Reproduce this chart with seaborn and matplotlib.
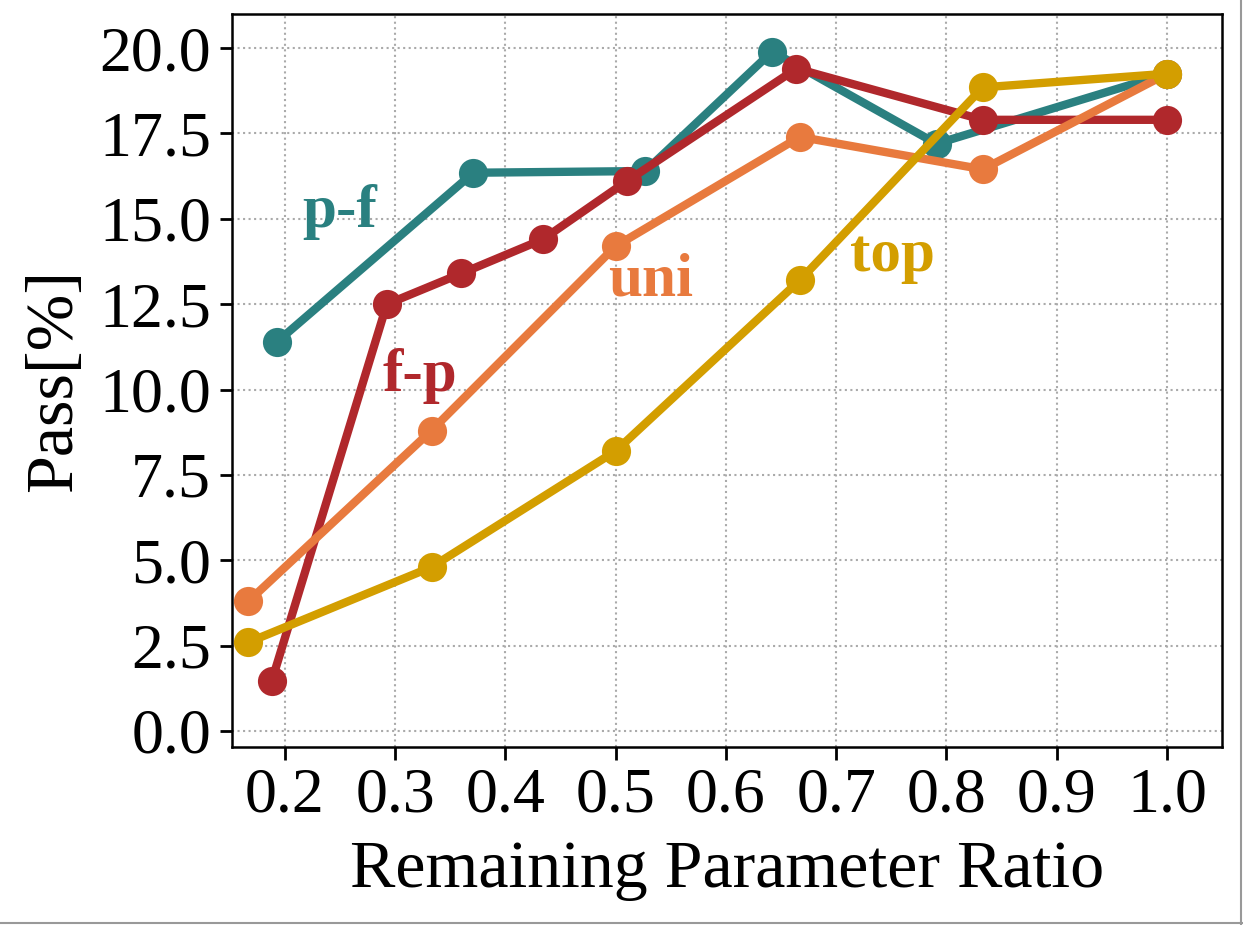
import matplotlib
matplotlib.use("Agg")
import matplotlib.pyplot as plt
import seaborn as sns
import pandas as pd
from matplotlib.lines import Line2D

sns.set_style("white")
plt.rcParams['font.family'] = ['Liberation Serif', 'DejaVu Serif']
plt.rcParams['text.color'] = 'black'
plt.rcParams['axes.labelcolor'] = 'black'

pf_x = [0.193, 0.371, 0.527, 0.642, 0.791, 1.0]
pf_y = [11.4, 16.35, 16.4, 19.9, 17.2, 19.25]
fp_x = [0.188, 0.2925, 0.36, 0.434, 0.51, 0.664, 0.833, 1.0]
fp_y = [1.45, 12.5, 13.4, 14.4, 16.1, 19.4, 17.9, 17.9]
uni_x = [0.167, 0.333, 0.5, 0.667, 0.833, 1.0]
uni_y = [3.8, 8.8, 14.2, 17.4, 16.45, 19.25]
top_x = [0.167, 0.333, 0.5, 0.667, 0.833, 1.0]
top_y = [2.6, 4.8, 8.2, 13.2, 18.85, 19.25]

series = [
    ("p-f", pf_x, pf_y, "#2a8080"),
    ("f-p", fp_x, fp_y, "#b0282c"),
    ("uni", uni_x, uni_y, "#e87a3e"),
    ("top", top_x, top_y, "#d39e00"),
]
labels = {"p-f": (0.25, 15.2), "f-p": (0.322, 10.4), "uni": (0.532, 13.2), "top": (0.751, 13.9)}

fig = plt.figure(figsize=(12.43, 9.25), dpi=100)
ax = fig.add_axes([0.1866, 0.1924, 0.7966, 0.7925])

for name, xs, ys, c in series:
    df = pd.DataFrame({"x": xs, "y": ys})
    sns.lineplot(data=df, x="x", y="y", ax=ax, color=c, lw=6, marker="o",
                 markersize=21, markeredgewidth=0, sort=False, zorder=3)
for name, xs, ys, c in series:
    lx, ly = labels[name]
    ax.text(lx, ly, name, color=c, fontsize=44, fontweight="bold",
            ha="center", va="center", zorder=4)

ax.set_xlim(0.152, 1.05)
ax.set_ylim(-0.47, 21.0)
ax.set_xticks([0.2, 0.3, 0.4, 0.5, 0.6, 0.7, 0.8, 0.9, 1.0])
ax.set_yticks([0, 2.5, 5, 7.5, 10, 12.5, 15, 17.5, 20])
ax.set_xticklabels(["0.2", "0.3", "0.4", "0.5", "0.6", "0.7", "0.8", "0.9", "1.0"])
ax.set_yticklabels(["0.0", "2.5", "5.0", "7.5", "10.0", "12.5", "15.0", "17.5", "20.0"])
ax.tick_params(axis="both", labelsize=46, direction="out", length=9, width=2,
               left=True, bottom=True, pad=6, colors="black")
ax.grid(True, linestyle=":", color="#aaaaaa", lw=1.5)
for s in ax.spines.values():
    s.set_linewidth(1.8)
    s.set_color("black")
ax.set_xlabel("Remaining Parameter Ratio", fontsize=49, labelpad=10, color="black")
ax.set_ylabel("Pass[%]", fontsize=49, labelpad=10, color="black")

fig.add_artist(Line2D([0.9985, 0.9985], [0.0, 1.0], transform=fig.transFigure, color="#999999", lw=1.5))
fig.add_artist(Line2D([0.0, 1.0], [0.0025, 0.0025], transform=fig.transFigure, color="#999999", lw=1.5))

fig.savefig("out.png", dpi=100)
